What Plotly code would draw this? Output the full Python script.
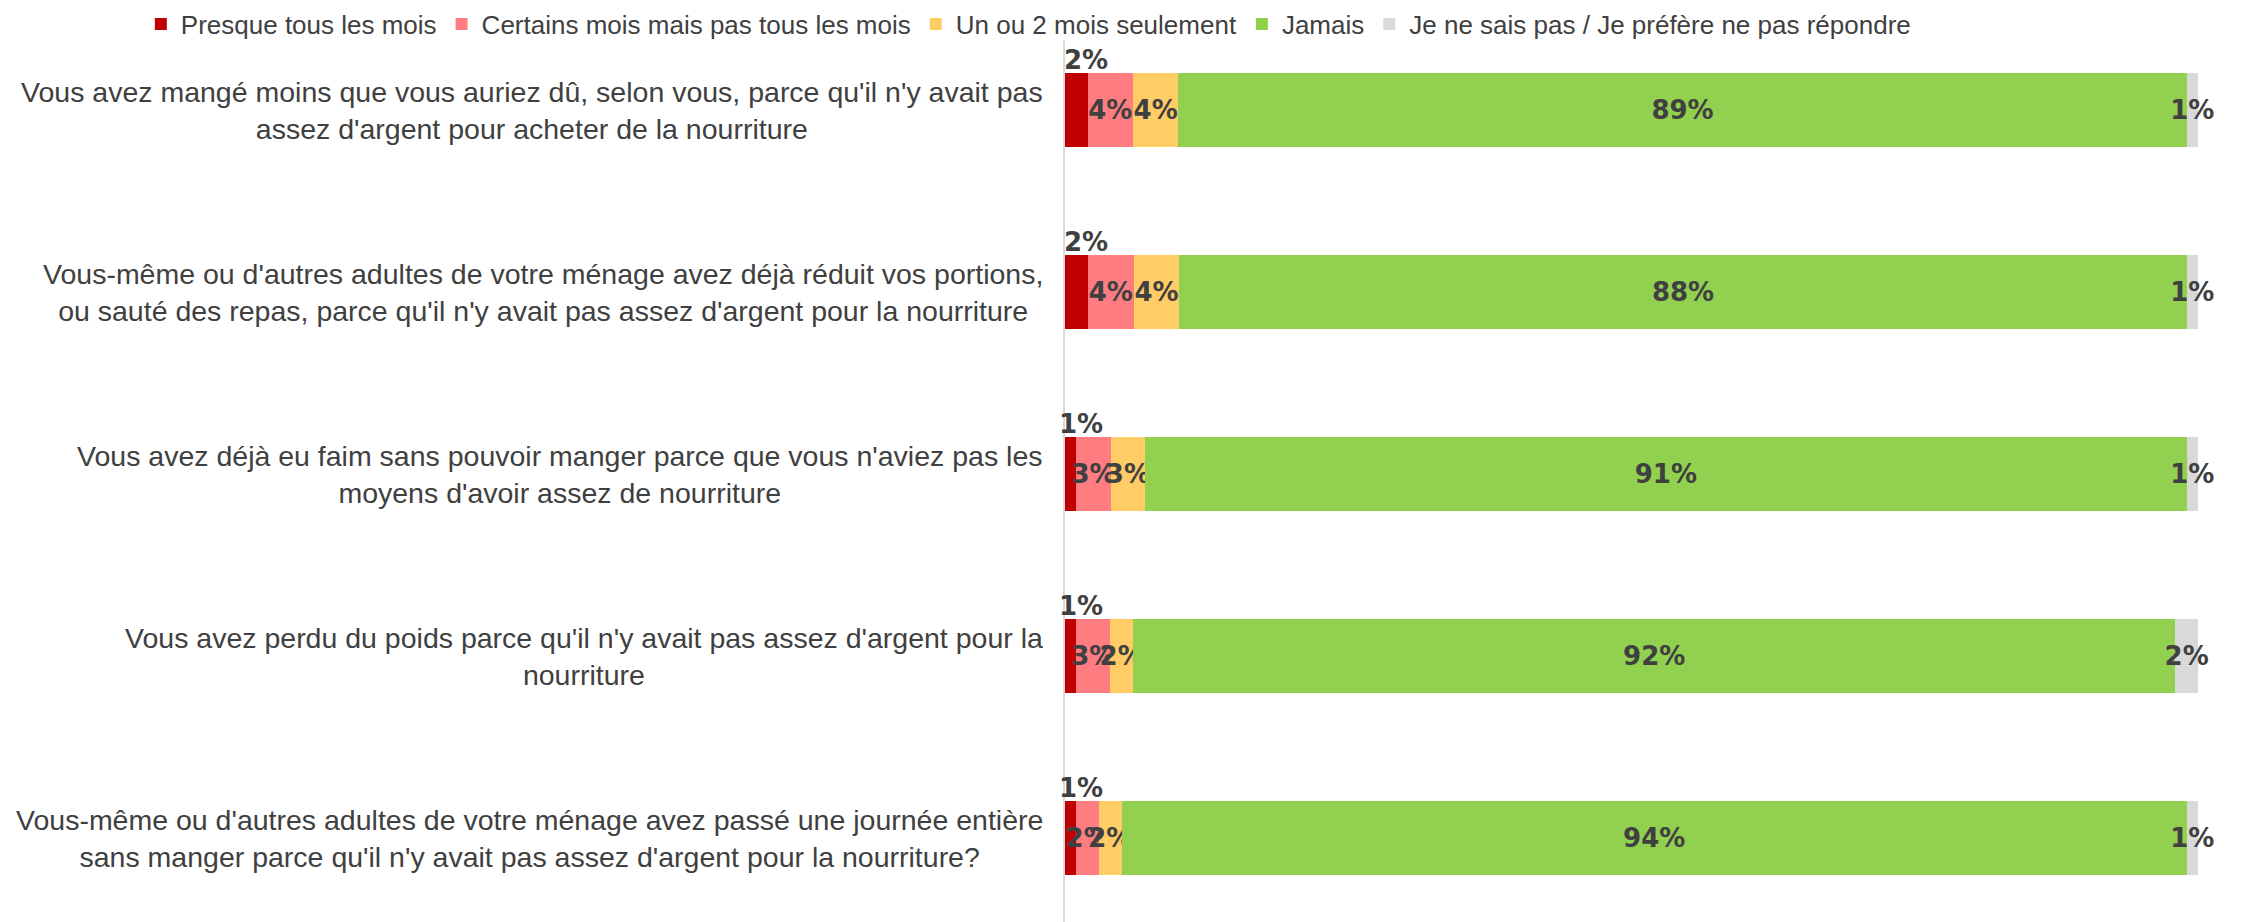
import plotly.graph_objects as go

categories = [
    "Vous avez mangé moins que vous auriez dû, selon vous, parce qu'il n'y avait pas<br>assez d'argent pour acheter de la nourriture",
    "Vous-même ou d'autres adultes de votre ménage avez déjà réduit vos portions,<br>ou sauté des repas, parce qu'il n'y avait pas assez d'argent pour la nourriture",
    "Vous avez déjà eu faim sans pouvoir manger parce que vous n'aviez pas les<br>moyens d'avoir assez de nourriture",
    "Vous avez perdu du poids parce qu'il n'y avait pas assez d'argent pour la<br>nourriture",
    "Vous-même ou d'autres adultes de votre ménage avez passé une journée entière<br>sans manger parce qu'il n'y avait pas assez d'argent pour la nourriture?",
]
series_names = [
    "Presque tous les mois",
    "Certains mois mais pas tous les mois",
    "Un ou 2 mois seulement",
    "Jamais",
    "Je ne sais pas / Je préfère ne pas répondre",
]
presque = [2, 2, 1, 1, 1]
certains = [4, 4, 3, 3, 2]
un_ou_2 = [4, 4, 3, 2, 2]
jamais = [89, 88, 91, 92, 94]
ne_sais_pas = [1, 1, 1, 2, 1]
colors = ["#C00000", "#FF7C80", "#FFCC66", "#92D050", "#D9D9D9"]

series = [presque, certains, un_ou_2, jamais, ne_sais_pas]
totals = [sum(s[i] for s in series) for i in range(len(categories))]

TEXT_FONT = "Liberation Sans"
LBL = dict(family="DejaVu Sans", size=26, color="#404040", weight="bold")

fig = go.Figure()
for k, (name, vals, col) in enumerate(zip(series_names, series, colors)):
    fig.add_trace(go.Bar(
        y=categories, x=vals, name=name, orientation="h",
        marker=dict(color=col, line=dict(width=0)),
        text=[f"{v}%" for v in vals] if k > 0 else None,
        textposition="inside" if k > 0 else "none",
        insidetextanchor="middle",
        textangle=0,
        constraintext="none",
        textfont=LBL,
        cliponaxis=False,
        width=0.41,
        hoverinfo="skip",
    ))

# first-series labels above the bars
for i, cat in enumerate(categories):
    xv = presque[i] / totals[i] * 100 / 2
    fig.add_annotation(
        x=xv, y=cat, xref="x", yref="y", text=f"{presque[i]}%",
        showarrow=False, yshift=50, xshift=10, font=LBL,
        xanchor="center", yanchor="middle",
    )

# category labels, centered lines
for cat in categories:
    fig.add_annotation(
        x=0, y=cat, xref="paper", yref="y", text=cat, showarrow=False,
        xanchor="right", yanchor="middle", align="center", xshift=-20,
        font=dict(family=TEXT_FONT, size=28.5, color="#404040"),
    )

fig.update_layout(
    barmode="stack", barnorm="percent",
    width=2245, height=922,
    margin=dict(l=1057, r=55, t=32, b=0, autoexpand=False),
    plot_bgcolor="white", paper_bgcolor="white",
    showlegend=True,
    legend=dict(
        orientation="h", xref="paper", yref="paper",
        x=-0.8157, xanchor="left", y=1.018, yanchor="middle",
        font=dict(family=TEXT_FONT, size=26, color="#404040"),
        traceorder="normal", itemclick=False, itemwidth=30,
        tracegroupgap=0, borderwidth=0, bgcolor="rgba(0,0,0,0)",
    ),
    xaxis=dict(range=[0, 100], visible=False, fixedrange=True),
    yaxis=dict(
        type="category", categoryorder="array", categoryarray=categories,
        range=[4.505, -0.3846], showticklabels=False, showgrid=False,
        showline=True, linecolor="#D9D9D9", linewidth=2, ticks="", zeroline=False,
    ),
)

fig.write_html("out.html")
